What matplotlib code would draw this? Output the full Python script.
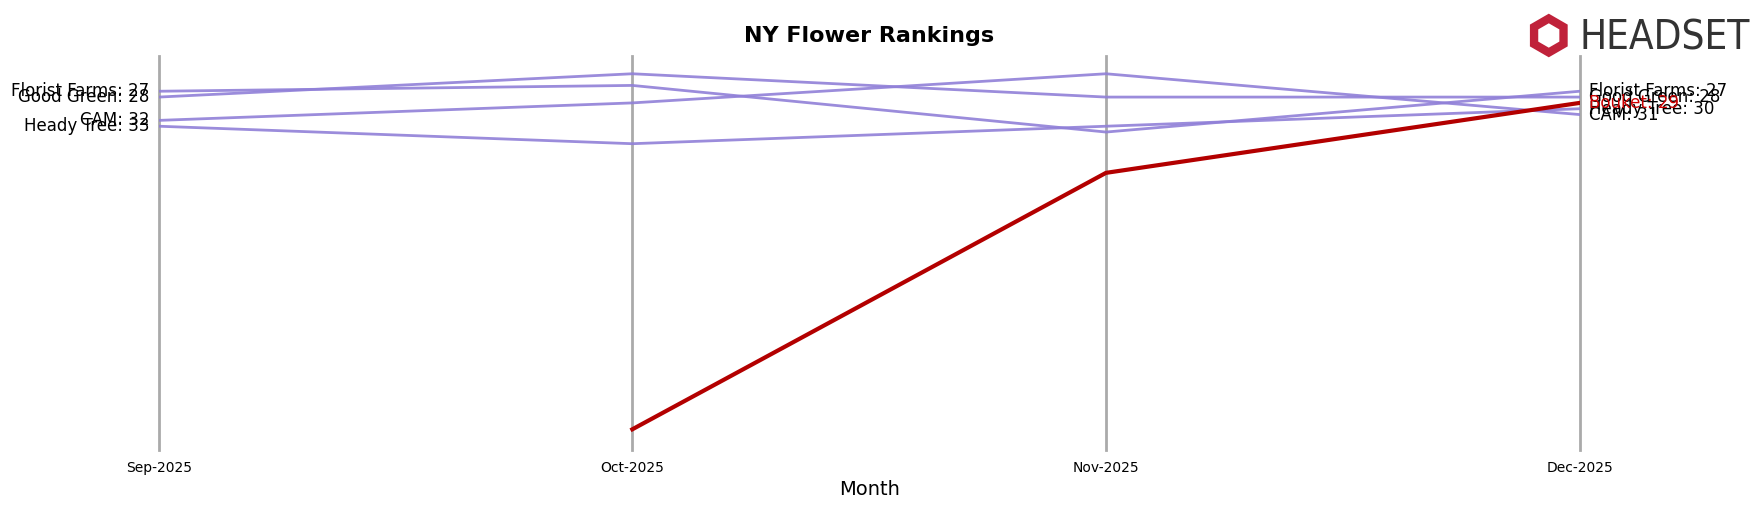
import matplotlib
matplotlib.use("Agg")
import matplotlib.pyplot as plt
from matplotlib.patches import RegularPolygon

months = ["Sep-2025", "Oct-2025", "Nov-2025", "Dec-2025"]
brands = ["Florist Farms", "Good Green", "CAM", "Heady Tree"]
ranks = {
    "Florist Farms": [27, 26, 34, 27],
    "Good Green": [28, 24, 28, 28],
    "CAM": [32, 29, 24, 31],
    "Heady Tree": [33, 36, 33, 30],
}
focus = "Bouket"
focus_ranks = [None, 85, 41, 29]

fig = plt.figure(figsize=(17.63, 5.07), dpi=100)
ax = fig.add_axes([0.09, 0.113, 0.806, 0.776])
x = list(range(len(months)))
for i in x:
    ax.axvline(i, color="#aaaaaa", lw=2, zorder=0, clip_on=False)
for b in brands:
    ax.plot(x, ranks[b], color="#9080d8", lw=2, alpha=0.9)
    ax.text(-0.02, ranks[b][0], f"{b}: {ranks[b][0]}", ha="right", va="center", fontsize=12)
    ax.text(3.02, ranks[b][-1], f"{b}: {ranks[b][-1]}", ha="left", va="center", fontsize=12)
fx = [i for i, v in zip(x, focus_ranks) if v is not None]
fy = [v for v in focus_ranks if v is not None]
ax.plot(fx, fy, color="#b30000", lw=3)
ax.text(3.02, fy[-1], f"{focus}: {fy[-1]}", ha="left", va="center", fontsize=12, color="#cc0000")
ax.set_xlim(0, 3)
ax.set_ylim(88.5, 21)
ax.set_xticks(x)
ax.set_xticklabels(months, fontsize=10)
ax.set_yticks([])
for s in ax.spines.values():
    s.set_visible(False)
ax.tick_params(axis="x", length=0, pad=8)
ax.set_xlabel("Month", fontsize=14)
ax.set_title("NY Flower Rankings", fontsize=16, fontweight="bold", pad=10)
fig.text(0.896, 0.925, "HEADSET", fontsize=29, color="#333333", ha="left", va="center", fontstretch="condensed")
hexp = RegularPolygon((0.8785 * 17.63, 0.93 * 5.07), numVertices=6, radius=0.17, orientation=0,
                      transform=fig.dpi_scale_trans, facecolor="none", edgecolor="#c0223a", lw=6)
fig.patches.append(hexp)
fig.savefig("out.png")
